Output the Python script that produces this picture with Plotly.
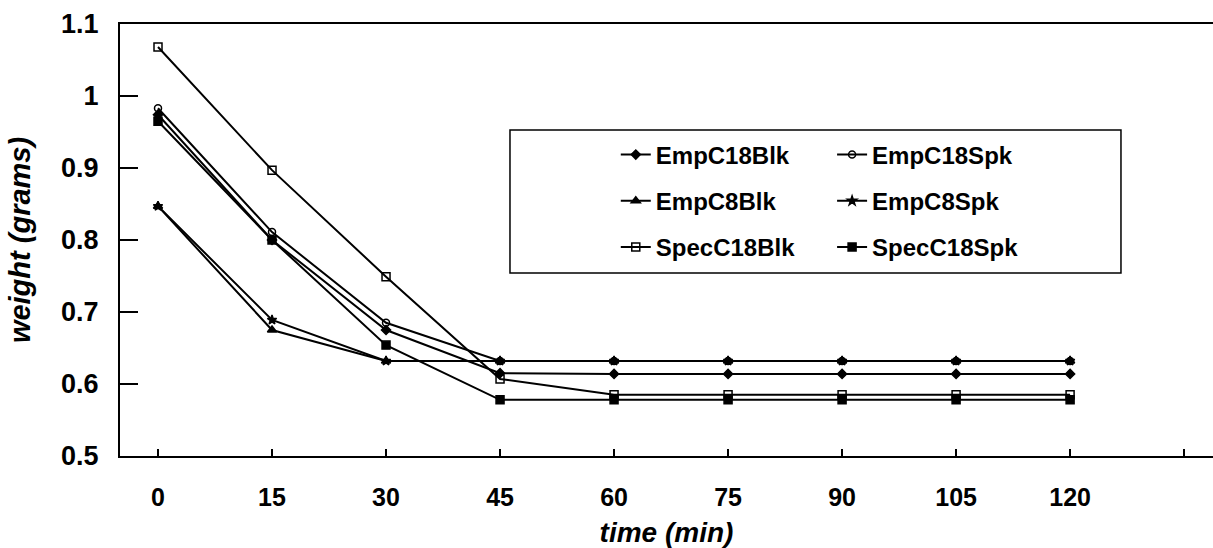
import plotly.graph_objects as go

time_min = [0, 15, 30, 45, 60, 75, 90, 105, 120]
series_names = ["EmpC18Blk", "EmpC18Spk", "EmpC8Blk", "EmpC8Spk", "SpecC18Blk", "SpecC18Spk"]
emp_c18_blk = [0.974, 0.800, 0.675, 0.615, 0.614, 0.614, 0.614, 0.614, 0.614]
emp_c18_spk = [0.983, 0.811, 0.685, 0.632, 0.632, 0.632, 0.632, 0.632, 0.632]
emp_c8_blk = [0.847, 0.675, 0.632, 0.632, 0.632, 0.632, 0.632, 0.632, 0.632]
emp_c8_spk = [0.847, 0.689, 0.632, 0.632, 0.632, 0.632, 0.632, 0.632, 0.632]
spec_c18_blk = [1.068, 0.897, 0.749, 0.607, 0.585, 0.585, 0.585, 0.585, 0.585]
spec_c18_spk = [0.965, 0.800, 0.654, 0.578, 0.578, 0.578, 0.578, 0.578, 0.578]
x_ticks = [0, 15, 30, 45, 60, 75, 90, 105, 120, 135]
x_ticktext = ["0", "15", "30", "45", "60", "75", "90", "105", "120", ""]
y_ticks = [0.5, 0.6, 0.7, 0.8, 0.9, 1.0, 1.1]
y_ticktext = ["0.5", "0.6", "0.7", "0.8", "0.9", "1", "1.1"]

values = [emp_c18_blk, emp_c18_spk, emp_c8_blk, emp_c8_spk, spec_c18_blk, spec_c18_spk]
symbols = ["diamond", "circle-open", "triangle-up", "star", "square-open", "square"]
sizes = [7, 7, 8, 7, 8, 8]
legends = ["legend", "legend2", "legend", "legend2", "legend", "legend2"]

fig = go.Figure()
for name, vals, sym, sz, lg in zip(series_names, values, symbols, sizes, legends):
    fig.add_trace(go.Scatter(
        x=time_min, y=vals, name=name, mode="lines+markers",
        line=dict(color="black", width=2),
        marker=dict(symbol=sym, size=sz, color="black",
                    line=dict(color="black", width=1.5)),
        legend=lg, legendgroup=name,
    ))

font_family = "Liberation Sans, Arial, sans-serif"
legend_common = dict(
    font=dict(family=font_family, size=24, color="black", weight="bold"),
    bgcolor="rgba(0,0,0,0)", borderwidth=0, tracegroupgap=12,
    yanchor="top", xanchor="left",
)
# plot area: x 120..1213 px, y 24..456 px
fig.update_layout(
    width=1213, height=548,
    margin=dict(l=120, r=0, t=24, b=92),
    paper_bgcolor="white", plot_bgcolor="white",
    font=dict(family=font_family, color="black"),
    legend=dict(x=0.4536, y=0.749, **legend_common),
    legend2=dict(x=0.6515, y=0.749, **legend_common),
    xaxis=dict(
        range=[-5, 138.8], tickvals=x_ticks, ticktext=x_ticktext,
        ticks="inside", ticklen=7, tickwidth=1.5, tickcolor="black",
        showline=True, linecolor="black", linewidth=2, mirror=True,
        showgrid=False, zeroline=False, automargin=False, ticklabelstandoff=18,
        tickfont=dict(family=font_family, size=25, color="black", weight="bold"),
        title=dict(text="time (min)",
                   font=dict(family=font_family, size=28, color="black",
                             weight="bold", style="italic")),
    ),
    yaxis=dict(
        range=[0.5, 1.1], tickvals=y_ticks, ticktext=y_ticktext,
        ticks="inside", ticklen=18, tickwidth=1.5, tickcolor="black",
        showline=True, linecolor="black", linewidth=2,
        showgrid=False, zeroline=False, automargin=True, ticklabelstandoff=14,
        tickfont=dict(family=font_family, size=27, color="black", weight="bold"),
        title=dict(text="weight (grams)", standoff=22,
                   font=dict(family=font_family, size=29, color="black",
                             weight="bold", style="italic")),
    ),
    shapes=[dict(type="rect", xref="paper", yref="paper",
                 x0=0.3568, x1=0.9158, y0=0.4236, y1=0.7546,
                 line=dict(color="black", width=1.5), fillcolor="rgba(0,0,0,0)")],
)
fig.write_html("out.html", config={"displayModeBar": False},
               post_script="document.body.style.margin='0';")
